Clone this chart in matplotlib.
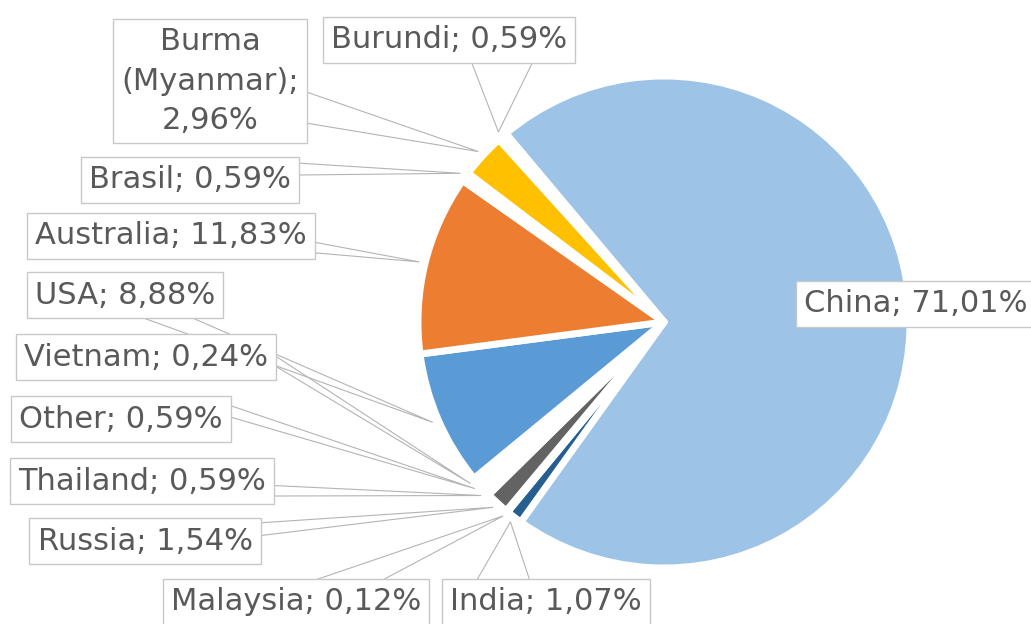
"""Exploded pie of producer shares with boxed callout labels"""

import numpy as np
import matplotlib
matplotlib.use("Agg")
import matplotlib.pyplot as plt

countries = ["China", "India", "Malaysia", "Russia", "Thailand", "Other",
             "Vietnam", "USA", "Australia", "Brasil", "Burma\n(Myanmar)", "Burundi"]
shares = [71.01, 1.07, 0.12, 1.54, 0.59, 0.59, 0.24, 8.88, 11.83, 0.59, 2.96, 0.59]
colors = ["#9dc3e6", "#255e91", "white", "#636363", "white", "white",
          "white", "#5b9bd5", "#ed7d31", "white", "#ffc000", "white"]

W, H = 1031, 624

# label box centre (px from top-left) and callout tail: side, fractions along edge
layout = {
    "China": ((916, 304), None),
    "India": ((546, 602), ("top", 0.17, 0.42)),
    "Malaysia": ((296, 602), ("top", 0.58, 0.83)),
    "Russia": ((145, 541), ("right", 0.10, 0.38)),
    "Thailand": ((142, 481), ("right", 0.60, 0.83)),
    "Other": ((121, 419), ("right", 0.21, 0.46)),
    "Vietnam": ((146, 357), ("right", 0.49, 0.71)),
    "USA": ((125, 295), ("bottom", 0.59, 0.84)),
    "Australia": ((171, 236), ("right", 0.64, 0.87)),
    "Brasil": ((190, 180), ("right", 0.13, 0.39)),
    "Burma\n(Myanmar)": ((210, 81), ("right", 0.59, 0.84)),
    "Burundi": ((449, 40), ("bottom", 0.59, 0.83)),
}


def label_text(name, value):
    pct = f"{value:.2f}".replace(".", ",") + "%"
    sep = ";\n" if "\n" in name else "; "
    return name + sep + pct


def main():
    fig = plt.figure(figsize=(W / 100, H / 100), dpi=100)
    ax = fig.add_axes([0, 0, 1, 1])

    radius = 246
    wedges, _ = ax.pie(shares, colors=colors, radius=radius, center=(664, H - 322),
                       startangle=130, counterclock=False, explode=[0.033] * len(shares),
                       wedgeprops=dict(edgecolor="white", linewidth=5, joinstyle="round"))
    ax.set_xlim(0, W)
    ax.set_ylim(0, H)
    ax.set_aspect("equal")
    ax.axis("off")

    texts = []
    for name, value in zip(countries, shares):
        (px, py), tail = layout[name]
        t = ax.text(px, H - py, label_text(name, value), ha="center", va="center",
                    fontsize=22, color="#595959", family="DejaVu Sans",
                    linespacing=1.45, zorder=4,
                    bbox=dict(boxstyle="square,pad=0.27", fc="white", ec="#c8c8c8", lw=1.0))
        texts.append((t, tail))

    fig.canvas.draw()
    inv = ax.transData.inverted()
    for w, (t, tail) in zip(wedges, texts):
        if tail is None:
            continue
        side, t1, t2 = tail
        mid = np.deg2rad((w.theta1 + w.theta2) / 2)
        cx, cy = w.center
        ax_ = cx + (radius + 6) * np.cos(mid)
        ay = cy + (radius + 6) * np.sin(mid)
        bb = t.get_bbox_patch().get_window_extent()
        (x0, y0), (x1, y1) = inv.transform([[bb.x0, bb.y0], [bb.x1, bb.y1]])
        if side == "right":
            base = [(x1, y1 - f * (y1 - y0)) for f in (t1, t2)]
        elif side == "bottom":
            base = [(x0 + f * (x1 - x0), y0) for f in (t1, t2)]
        else:
            base = [(x0 + f * (x1 - x0), y1) for f in (t1, t2)]
        ax.plot([base[0][0], ax_, base[1][0]], [base[0][1], ay, base[1][1]],
                color="#b4b4b4", lw=0.8, zorder=2, solid_joinstyle="miter")

    fig.savefig("out.png", dpi=100)


if __name__ == "__main__":
    main()
